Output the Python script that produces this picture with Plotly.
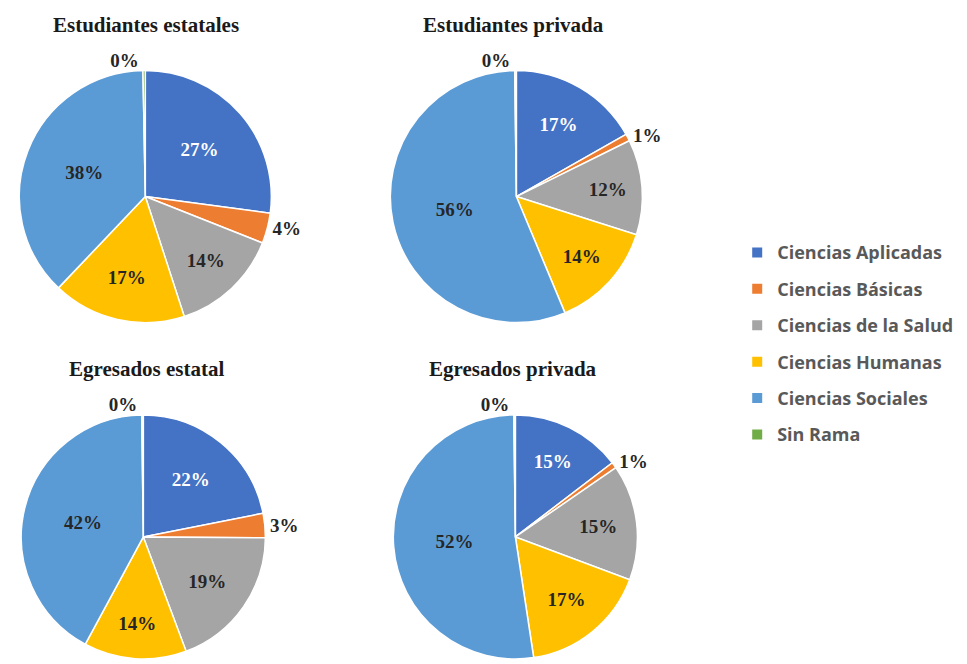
import plotly.graph_objects as go

# categorias y colores
ramas = ["Ciencias Aplicadas", "Ciencias Básicas", "Ciencias de la Salud",
         "Ciencias Humanas", "Ciencias Sociales", "Sin Rama"]
colores = ["#4472C4", "#ED7D31", "#A5A5A5", "#FFC000", "#5B9BD5", "#70AD47"]

# porcentajes
est_estatales = [27.1, 3.9, 14.0, 17.1, 37.6, 0.3]
est_privada = [16.8, 0.9, 12.2, 13.8, 56.1, 0.2]
egr_estatal = [21.9, 3.2, 19.2, 13.6, 41.9, 0.2]
egr_privada = [14.6, 0.8, 15.3, 16.9, 52.2, 0.2]

titulos = ["Estudiantes estatales", "Estudiantes privada",
           "Egresados estatal", "Egresados privada"]

# la pagina deja 8px de margen en el body
W, H = 959, 656
def fx(x):
    return (x - 8) / W
def fy(y):
    return 1 - (y - 8) / H

R = 127
centros = [(141, 198), (514, 198), (139, 545), (513, 545)]
dominios = []
for cx, cy in centros:
    dominios.append(dict(x=[fx(cx - R), fx(cx + R)],
                         y=[max(0, fy(cy + R)), fy(cy - R)]))
pos_titulos = [(142, 25), (511, 25), (143, 372), (511, 372)]

posiciones = ["inside", "outside", "inside", "inside", "inside", "outside"]
color_txt = ["white", "#262626", "#262626", "#262626", "#262626", "#262626"]

fig = go.Figure()
for vals, dom in zip([est_estatales, est_privada, egr_estatal, egr_privada], dominios):
    fig.add_trace(go.Pie(
        labels=ramas, values=vals, domain=dom, sort=False, direction="clockwise",
        rotation=0, marker=dict(colors=colores, line=dict(color="white", width=1.5)),
        texttemplate="%{percent:.0%}", textposition=posiciones,
        insidetextorientation="horizontal",
        textfont=dict(family="Liberation Serif", size=19, color=color_txt, weight="bold"),
        showlegend=False, hoverinfo="label+percent"))

# leyenda
for r, c in zip(ramas, colores):
    fig.add_trace(go.Scatter(x=[None], y=[None], mode="markers", name=r, legendgroup=r,
                             marker=dict(symbol="square", size=10, color=c)))

for t, (px, py_) in zip(titulos, pos_titulos):
    fig.add_annotation(text="<b>" + t + "</b>", x=fx(px), y=fy(py_), xref="paper", yref="paper",
                       showarrow=False, xanchor="center", yanchor="middle",
                       font=dict(family="Liberation Serif", size=21, color="#1a1a1a"))

fig.update_layout(
    width=W, height=H, margin=dict(l=0, r=0, t=0, b=0),
    paper_bgcolor="white", plot_bgcolor="white",
    xaxis=dict(visible=False), yaxis=dict(visible=False),
    legend=dict(x=fx(736), y=fy(236), xanchor="left", yanchor="top", tracegroupgap=10,
                itemwidth=30,
                font=dict(family="Open Sans", size=18, color="#595959", weight="bold")),
)

fig.write_html("out.html")
